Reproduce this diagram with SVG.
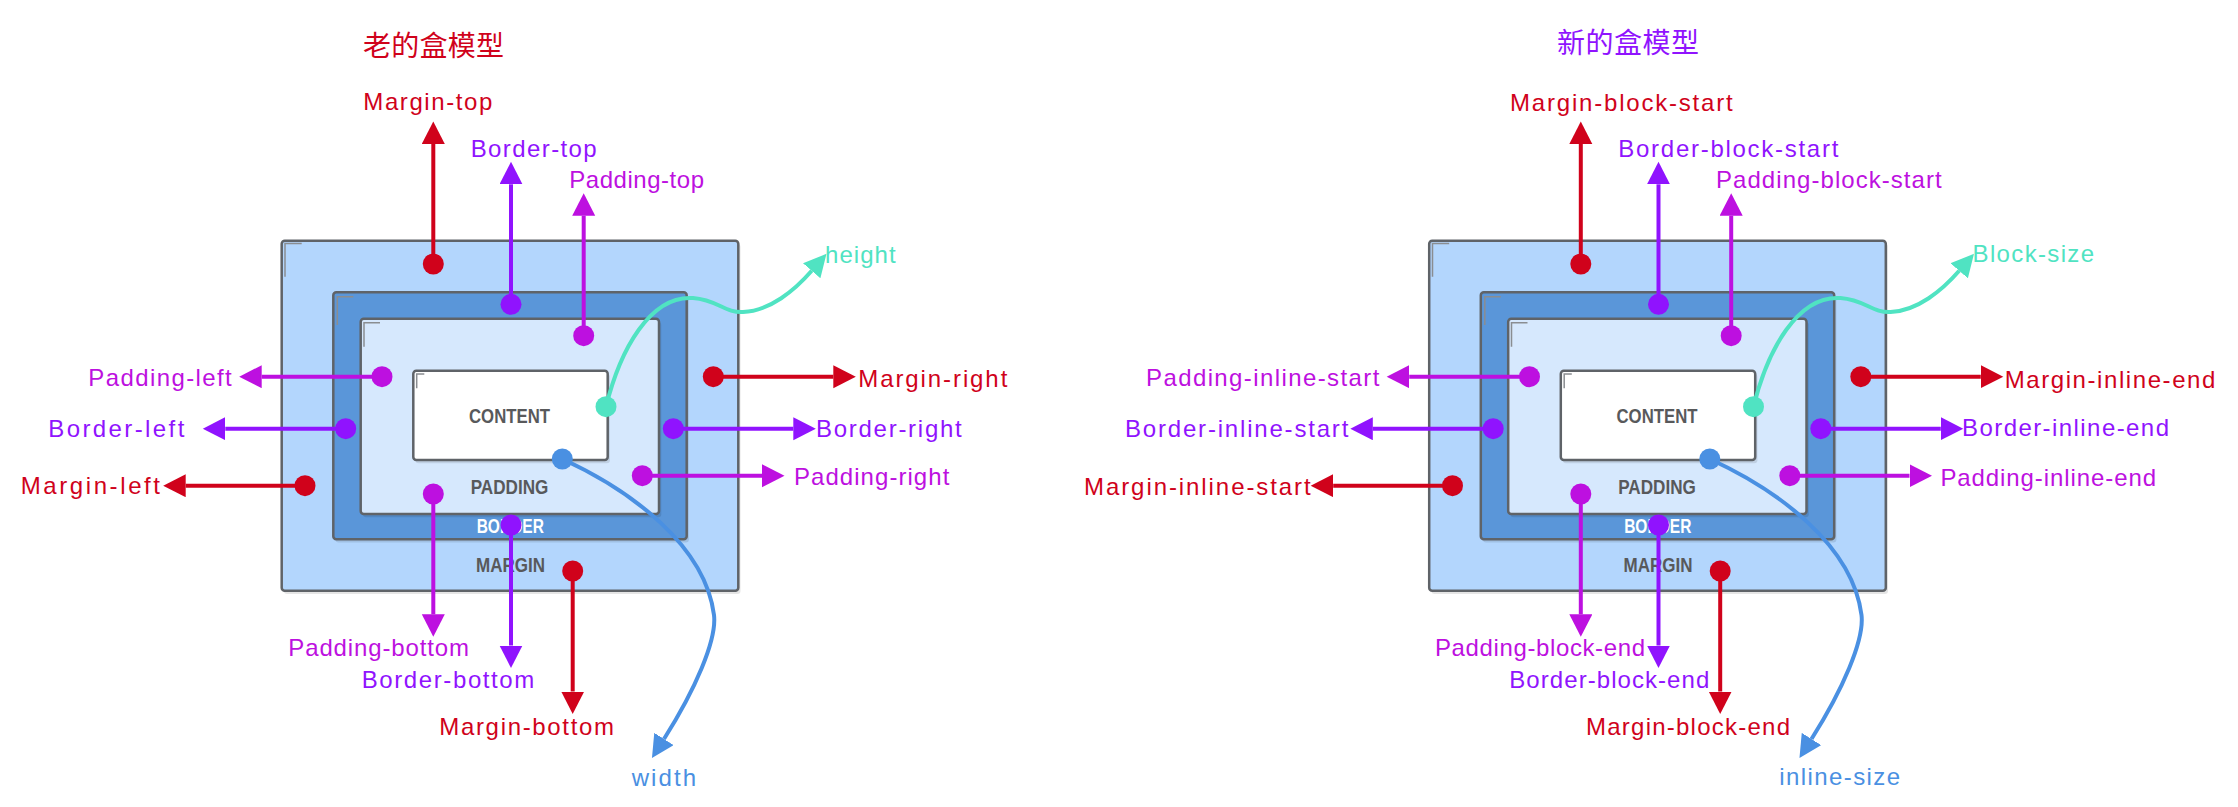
<svg xmlns="http://www.w3.org/2000/svg" width="2238" height="807" viewBox="0 0 2238 807">
<style>
.bg{fill:#ffffff}
.box{stroke:#5f6368;stroke-width:2.5}
.mbox{fill:#b3d6fd}
.bbox{fill:#5a96d9}
.pbox{fill:#d6e8fd}
.cbox{fill:#ffffff}
.shadow{fill:#000000;opacity:0.1}
.mark{fill:none;stroke:#8a8d91;stroke-width:1.5}
.boxtxt{font-family:"Liberation Sans",Arial,sans-serif;font-weight:bold;font-size:21px;fill:#58595b;text-anchor:middle}
.boxtxt.w{fill:#ffffff}
.c{fill:none;stroke-width:4}
.r{stroke:#d0021b;marker-start:url(#dr);marker-end:url(#ar)}
.p{stroke:#9013fe;marker-start:url(#dp);marker-end:url(#ap)}
.m{stroke:#bd10e0;marker-start:url(#dm);marker-end:url(#am)}
.t{stroke:#50e3c2;marker-start:url(#dt);marker-end:url(#at)}
.b{stroke:#4a90e2;marker-start:url(#db);marker-end:url(#ab)}
.lbl{font-family:"Liberation Sans",Arial,sans-serif;font-size:24px}
.title{font-family:"Noto Sans CJK SC","Noto Sans CJK JP",sans-serif;font-size:28px}
.fr{fill:#d0021b}.fp{fill:#9013fe}.fm{fill:#bd10e0}.ft{fill:#50e3c2}.fb{fill:#4a90e2}
</style>
<defs>
<marker id="ar" markerUnits="userSpaceOnUse" markerWidth="24" markerHeight="24" viewBox="0 0 24 24" refX="0" refY="11.5" orient="auto"><path d="M0,0 L22.5,11.5 L0,23 z" fill="#d0021b"/></marker>
<marker id="ap" markerUnits="userSpaceOnUse" markerWidth="24" markerHeight="24" viewBox="0 0 24 24" refX="0" refY="11.5" orient="auto"><path d="M0,0 L22.5,11.5 L0,23 z" fill="#9013fe"/></marker>
<marker id="am" markerUnits="userSpaceOnUse" markerWidth="24" markerHeight="24" viewBox="0 0 24 24" refX="0" refY="11.5" orient="auto"><path d="M0,0 L22.5,11.5 L0,23 z" fill="#bd10e0"/></marker>
<marker id="at" markerUnits="userSpaceOnUse" markerWidth="24" markerHeight="24" viewBox="0 0 24 24" refX="0" refY="11.5" orient="auto"><path d="M0,0 L22.5,11.5 L0,23 z" fill="#50e3c2"/></marker>
<marker id="ab" markerUnits="userSpaceOnUse" markerWidth="24" markerHeight="24" viewBox="0 0 24 24" refX="0" refY="11.5" orient="auto"><path d="M0,0 L22.5,11.5 L0,23 z" fill="#4a90e2"/></marker>
<marker id="dr" markerUnits="userSpaceOnUse" markerWidth="22" markerHeight="22" viewBox="0 0 22 22" refX="11" refY="11"><circle cx="11" cy="11" r="10.5" fill="#d0021b"/></marker>
<marker id="dp" markerUnits="userSpaceOnUse" markerWidth="22" markerHeight="22" viewBox="0 0 22 22" refX="11" refY="11"><circle cx="11" cy="11" r="10.5" fill="#9013fe"/></marker>
<marker id="dm" markerUnits="userSpaceOnUse" markerWidth="22" markerHeight="22" viewBox="0 0 22 22" refX="11" refY="11"><circle cx="11" cy="11" r="10.5" fill="#bd10e0"/></marker>
<marker id="dt" markerUnits="userSpaceOnUse" markerWidth="22" markerHeight="22" viewBox="0 0 22 22" refX="11" refY="11"><circle cx="11" cy="11" r="10.5" fill="#50e3c2"/></marker>
<marker id="db" markerUnits="userSpaceOnUse" markerWidth="22" markerHeight="22" viewBox="0 0 22 22" refX="11" refY="11"><circle cx="11" cy="11" r="10.5" fill="#4a90e2"/></marker>
</defs>
<rect class="bg" x="0" y="0" width="2238" height="807"/>

<g id="titles">
<text class="title fr" x="363" y="56" textLength="141">老的盒模型</text>
<text class="title fp" x="1557" y="53" textLength="142">新的盒模型</text>
</g>

<!-- OLD BOX MODEL -->
<g id="old-margin">
<rect class="shadow" x="284" y="244" width="456.5" height="350" rx="3"/>
<rect class="box mbox" x="281.7" y="240.7" width="456.6" height="350" rx="3"/>
<path class="mark" d="M285,276.7 V243.6 H301.7"/>
<text class="boxtxt" x="510.5" y="571.7" textLength="69" lengthAdjust="spacingAndGlyphs">MARGIN</text>
</g>
<g id="old-border">
<rect class="shadow" x="335.5" y="295.5" width="353.4" height="247" rx="3"/>
<rect class="box bbox" x="333.3" y="292.3" width="353.4" height="247" rx="3"/>
<path class="mark" d="M337.3,325 V296.7 H353.3"/>
<text class="boxtxt w" x="510.3" y="533.3" textLength="67.3" lengthAdjust="spacingAndGlyphs">BORDER</text>
</g>
<g id="old-padding">
<rect class="shadow" x="363" y="322" width="298.3" height="195.3" rx="3"/>
<rect class="box pbox" x="360.7" y="318.7" width="298.3" height="195.3" rx="3"/>
<path class="mark" d="M364,346.7 V322.7 H380"/>
<text class="boxtxt" x="509.5" y="494" textLength="77.7" lengthAdjust="spacingAndGlyphs">PADDING</text>
</g>
<g id="old-content">
<rect class="shadow" x="415.5" y="374" width="194.4" height="89.3" rx="3"/>
<rect class="box cbox" x="413.3" y="370.7" width="194.4" height="89.3" rx="3"/>
<path class="mark" d="M416.7,388.3 V374 H424.3"/>
<text class="boxtxt" x="509.5" y="423.3" textLength="81" lengthAdjust="spacingAndGlyphs">CONTENT</text>
</g>

<!-- NEW BOX MODEL -->
<g transform="translate(1147.5,0)">
<g id="new-margin">
<rect class="shadow" x="284" y="244" width="456.5" height="350" rx="3"/>
<rect class="box mbox" x="281.7" y="240.7" width="456.6" height="350" rx="3"/>
<path class="mark" d="M285,276.7 V243.6 H301.7"/>
<text class="boxtxt" x="510.5" y="571.7" textLength="69" lengthAdjust="spacingAndGlyphs">MARGIN</text>
</g>
<g id="new-border">
<rect class="shadow" x="335.5" y="295.5" width="353.4" height="247" rx="3"/>
<rect class="box bbox" x="333.3" y="292.3" width="353.4" height="247" rx="3"/>
<path class="mark" d="M337.3,325 V296.7 H353.3"/>
<text class="boxtxt w" x="510.3" y="533.3" textLength="67.3" lengthAdjust="spacingAndGlyphs">BORDER</text>
</g>
<g id="new-padding">
<rect class="shadow" x="363" y="322" width="298.3" height="195.3" rx="3"/>
<rect class="box pbox" x="360.7" y="318.7" width="298.3" height="195.3" rx="3"/>
<path class="mark" d="M364,346.7 V322.7 H380"/>
<text class="boxtxt" x="509.5" y="494" textLength="77.7" lengthAdjust="spacingAndGlyphs">PADDING</text>
</g>
<g id="new-content">
<rect class="shadow" x="415.5" y="374" width="194.4" height="89.3" rx="3"/>
<rect class="box cbox" x="413.3" y="370.7" width="194.4" height="89.3" rx="3"/>
<path class="mark" d="M416.7,388.3 V374 H424.3"/>
<text class="boxtxt" x="509.5" y="423.3" textLength="81" lengthAdjust="spacingAndGlyphs">CONTENT</text>
</g>
</g>

<g id="connectors">
<g id="old-connectors">
<path class="c r" d="M433.3,264 V144"/>
<path class="c p" d="M511,304.3 V184.3"/>
<path class="c m" d="M583.7,335.7 V215.7"/>
<path class="c m" d="M382,376.7 H261.7"/>
<path class="c p" d="M345.7,428.7 H225.3"/>
<path class="c r" d="M305,485.7 H185.7"/>
<path class="c r" d="M713.3,376.7 H833.3"/>
<path class="c p" d="M673.3,428.7 H793.3"/>
<path class="c m" d="M642.3,475.7 H762"/>
<path class="c m" d="M433.3,494 V614.3"/>
<path class="c p" d="M511,525 V645.5"/>
<path class="c r" d="M572.7,571 V691.5"/>
<path class="c t" d="M606,406.7 C620,350 650,295 693,298 C718,300 725,313 743,312 C770,311 795,290 811.7,270.8"/>
<path class="c b" d="M562.3,459 C630,490 705,545 714,615 C717,640 695,690 664,739"/>
</g>
<g id="new-connectors" transform="translate(1147.5,0)">
<path class="c r" d="M433.3,264 V144"/>
<path class="c p" d="M511,304.3 V184.3"/>
<path class="c m" d="M583.7,335.7 V215.7"/>
<path class="c m" d="M382,376.7 H261.7"/>
<path class="c p" d="M345.7,428.7 H225.3"/>
<path class="c r" d="M305,485.7 H185.7"/>
<path class="c r" d="M713.3,376.7 H833.3"/>
<path class="c p" d="M673.3,428.7 H793.3"/>
<path class="c m" d="M642.3,475.7 H762"/>
<path class="c m" d="M433.3,494 V614.3"/>
<path class="c p" d="M511,525 V645.5"/>
<path class="c r" d="M572.7,571 V691.5"/>
<path class="c t" d="M606,406.7 C620,350 650,295 693,298 C718,300 725,313 743,312 C770,311 795,290 811.7,270.8"/>
<path class="c b" d="M562.3,459 C630,490 705,545 714,615 C717,640 695,690 664,739"/>
</g>
</g>

<g id="old-labels">
<text class="lbl fr" x="363.3" y="110" textLength="129">Margin-top</text>
<text class="lbl fp" x="470.7" y="156.7" textLength="126">Border-top</text>
<text class="lbl fm" x="569.3" y="188.3" textLength="134.7">Padding-top</text>
<text class="lbl fm" x="88.3" y="385.5" textLength="143.4">Padding-left</text>
<text class="lbl fp" x="48.3" y="437.3" textLength="136">Border-left</text>
<text class="lbl fr" x="20.7" y="494" textLength="139.3">Margin-left</text>
<text class="lbl fr" x="858.3" y="386.7" textLength="149">Margin-right</text>
<text class="lbl fp" x="816" y="436.7" textLength="145.7">Border-right</text>
<text class="lbl fm" x="794" y="485" textLength="155.3">Padding-right</text>
<text class="lbl fm" x="288.3" y="656" textLength="180.7">Padding-bottom</text>
<text class="lbl fp" x="361.7" y="688.3" textLength="172.6">Border-bottom</text>
<text class="lbl fr" x="439.3" y="735" textLength="174.7">Margin-bottom</text>
<text class="lbl ft" x="825" y="263.3" textLength="70.7">height</text>
<text class="lbl fb" x="631.7" y="786" textLength="64.3">width</text>
</g>

<g id="new-labels">
<text class="lbl fr" x="1510" y="110.7" textLength="222.7">Margin-block-start</text>
<text class="lbl fp" x="1618.3" y="156.7" textLength="220">Border-block-start</text>
<text class="lbl fm" x="1716" y="188.3" textLength="225.7">Padding-block-start</text>
<text class="lbl fm" x="1146" y="385.7" textLength="233.3">Padding-inline-start</text>
<text class="lbl fp" x="1125" y="436.7" textLength="223.3">Border-inline-start</text>
<text class="lbl fr" x="1084" y="495" textLength="226.7">Margin-inline-start</text>
<text class="lbl fr" x="2004.7" y="388" textLength="210.7">Margin-inline-end</text>
<text class="lbl fp" x="1962" y="436.3" textLength="207">Border-inline-end</text>
<text class="lbl fm" x="1940.4" y="486.3" textLength="215.6">Padding-inline-end</text>
<text class="lbl fm" x="1435" y="656" textLength="210">Padding-block-end</text>
<text class="lbl fp" x="1509.3" y="688.3" textLength="200">Border-block-end</text>
<text class="lbl fr" x="1586" y="735" textLength="204">Margin-block-end</text>
<text class="lbl ft" x="1972.6" y="261.7" textLength="121.4">Block-size</text>
<text class="lbl fb" x="1779.3" y="785" textLength="120.7">inline-size</text>
</g>
</svg>
